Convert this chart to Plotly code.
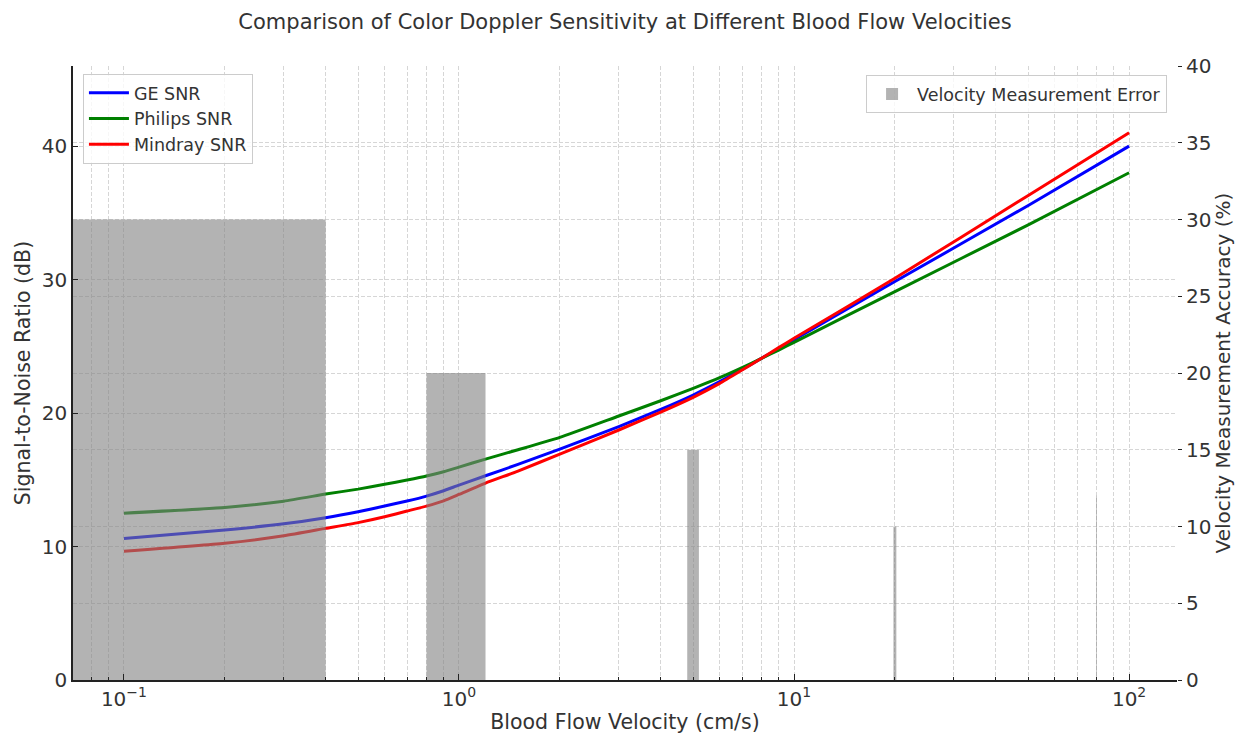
import plotly.graph_objects as go

# ---- data ----
velocity = [0.1, 0.2, 0.3, 0.4, 0.5, 0.6, 0.7, 0.8, 0.9, 1.0, 1.2, 1.5, 2, 3, 4, 5, 6, 7, 8, 9, 10, 20, 50, 100]
ge_snr = [10.6, 11.24, 11.7, 12.16, 12.61, 13.03, 13.41, 13.78, 14.18, 14.6, 15.3, 16.15, 17.3, 18.98, 20.27,
          21.35, 22.35, 23.27, 24.1, 24.82, 25.5, 29.85, 35.55, 40.0]
philips_snr = [12.5, 12.93, 13.4, 13.93, 14.3, 14.66, 14.98, 15.28, 15.6, 15.95, 16.55, 17.25, 18.18, 19.78, 20.92,
               21.85, 22.65, 23.4, 24.1, 24.72, 25.3, 29.1, 34.1, 38.0]
mindray_snr = [9.64, 10.24, 10.8, 11.36, 11.79, 12.23, 12.66, 13.03, 13.42, 13.9, 14.75, 15.65, 16.93, 18.73, 20.07,
               21.18, 22.22, 23.22, 24.1, 24.9, 25.6, 30.1, 36.3, 41.0]

error_velocity = [0.1, 1, 5, 20, 80]
error_width = [0.6, 0.4, 0.4, 0.4, 0.4]
error_pct = [30, 20, 15, 10, 12]

x_tick_vals = [0.1, 1, 10, 100]
x_tick_text = ["10<sup>−1</sup>", "10<sup>0</sup>", "10<sup>1</sup>", "10<sup>2</sup>"]
snr_ticks = [0, 10, 20, 30, 40]
err_ticks = [0, 5, 10, 15, 20, 25, 30, 35, 40]

title = "Comparison of Color Doppler Sensitivity at Different Blood Flow Velocities"
x_log_range = [-1.152, 2.143]

FONT = "DejaVu Sans, Arial, sans-serif"
TXT = "#333333"
GRID = "#d6d6d6"
GDASH = "4px,2px"
BAR = "rgba(128,128,128,0.6)"

W, H = 1238, 735
L, R, T, B = 73, 61, 66, 55

fig = go.Figure()

for i, (name, ys, col) in enumerate([("GE SNR", ge_snr, "#0000ff"),
                                     ("Philips SNR", philips_snr, "#008000"),
                                     ("Mindray SNR", mindray_snr, "#ff0000")]):
    fig.add_trace(go.Scatter(x=velocity, y=ys, mode="lines", name=name,
                             line=dict(color=col, width=3, shape="spline", smoothing=0.5),
                             legend="legend", legendgroup=f"g{i}"))

# bars drawn as filled polygons in data space (log x axis)
bx, by = [], []
xmin_clip = 10 ** x_log_range[0] * 0.5
for c, w, h in zip(error_velocity, error_width, error_pct):
    left = max(c - w / 2, xmin_clip)
    right = c + w / 2
    bx += [left, right, right, left, left, None]
    by += [0, 0, h, h, 0, None]
fig.add_trace(go.Scatter(x=bx, y=by, mode="lines", fill="toself",
                         fillcolor=BAR, line=dict(width=0, color=BAR),
                         name="Velocity Measurement Error", yaxis="y2",
                         showlegend=False, hoverinfo="skip"))
# legend entry for the bars
fig.add_trace(go.Bar(x=[None], y=[None], marker=dict(color=BAR, line=dict(width=0)),
                     name="Velocity Measurement Error", yaxis="y2", legend="legend2"))

fig.update_layout(
    width=W, height=H,
    margin=dict(l=L, r=R, t=T, b=B, autoexpand=False),
    paper_bgcolor="white", plot_bgcolor="white",
    font=dict(family=FONT, color=TXT, size=16),
    title=dict(text=title, x=(L + (W - L - R) / 2) / W, xanchor="center",
               y=1 - 22 / H, yanchor="middle", font=dict(size=21, color=TXT)),
    xaxis=dict(type="log", range=x_log_range, tickvals=x_tick_vals, ticktext=x_tick_text,
               showline=True, linecolor="#222", linewidth=1.5, mirror=False,
               ticks="inside", ticklen=6, tickcolor="#222", automargin=False,
               showgrid=True, gridcolor=GRID, griddash=GDASH, gridwidth=1,
               minor=dict(showgrid=True, gridcolor=GRID, griddash=GDASH, ticks="inside", ticklen=3,
                          tickcolor="#222", dtick="D1"),
               title=dict(text="Blood Flow Velocity (cm/s)", font=dict(size=20.5), standoff=5),
               tickfont=dict(size=20), zeroline=False),
    yaxis=dict(range=[0, 46], tickvals=snr_ticks, automargin=False,
               showline=True, linecolor="#222", linewidth=1.5,
               ticks="inside", ticklen=5, tickcolor="#222",
               showgrid=True, gridcolor=GRID, griddash=GDASH,
               title=dict(text="Signal-to-Noise Ratio (dB)", font=dict(size=20.5), standoff=6),
               tickfont=dict(size=20), zeroline=False),
    yaxis2=dict(range=[0, 40], tickvals=err_ticks, automargin=False,
                overlaying="y", side="right", showline=False,
                ticks="outside", ticklen=4, tickcolor="#222",
                showgrid=True, gridcolor=GRID, griddash=GDASH,
                title=dict(text="Velocity Measurement Accuracy (%)", font=dict(size=20), standoff=2),
                tickfont=dict(size=20), zeroline=False),
    legend=dict(x=0.009, y=0.987, xanchor="left", yanchor="top",
                bgcolor="rgba(255,255,255,0.8)", bordercolor="#cccccc", borderwidth=1,
                font=dict(size=17.5, color=TXT), itemwidth=40, tracegroupgap=0),
    legend2=dict(x=0.991, y=0.985, xanchor="right", yanchor="top",
                 bgcolor="rgba(255,255,255,0.8)", bordercolor="#cccccc", borderwidth=1,
                 font=dict(size=17.5, color=TXT), itemwidth=40),
    showlegend=True,
    barmode="overlay",
)

fig.write_html("out.html",
               config={"displayModeBar": False},
               post_script="document.body.style.margin='0';document.body.style.overflow='hidden';")
